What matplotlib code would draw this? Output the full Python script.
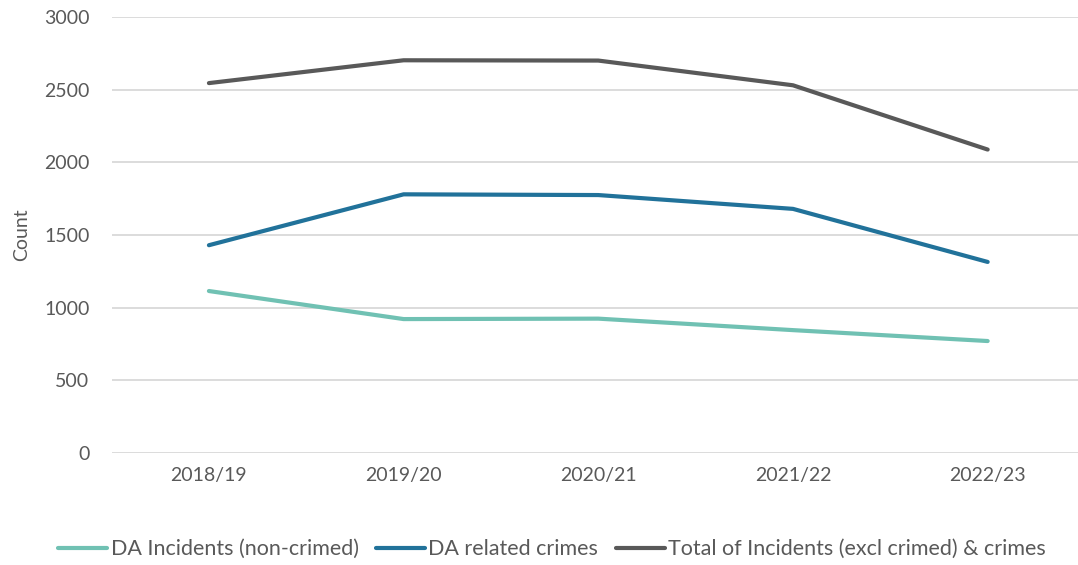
import matplotlib.pyplot as plt

years = ["2018/19", "2019/20", "2020/21", "2021/22", "2022/23"]
incidents = [1115, 922, 925, 846, 771]
crimes = [1430, 1780, 1775, 1680, 1315]
total = [2545, 2702, 2700, 2530, 2088]

plt.rcParams['font.family'] = ['Lato', 'DejaVu Sans']

fig = plt.figure(figsize=(10.78, 5.65), dpi=100)
ax = fig.add_axes([0.1035, 0.198, 0.903, 0.772])

x = list(range(len(years)))
ax.plot(x, incidents, color='#70C1B3', lw=3, solid_capstyle='round', label='DA Incidents (non-crimed)')
ax.plot(x, crimes, color='#21729A', lw=3, solid_capstyle='round', label='DA related crimes')
ax.plot(x, total, color='#595959', lw=3, solid_capstyle='round', label='Total of Incidents (excl crimed) & crimes')

ax.set_xlim(-0.5, len(years) - 0.5)
ax.set_ylim(0, 3000)
ax.set_yticks(range(0, 3001, 500))
ax.set_xticks(x)
ax.set_xticklabels(years)
ax.grid(axis='y', color='#D9D9D9', lw=1.3)
ax.set_axisbelow(True)
for s in ax.spines.values():
    s.set_visible(False)
ax.tick_params(length=0, labelsize=14, colors='#595959', pad=10)
ax.tick_params(axis='y', pad=16)
ax.set_ylabel('Count', fontsize=14, color='#595959', labelpad=10)

fig.legend(loc='center', bbox_to_anchor=(0.512, 0.028), ncol=3, frameon=False,
           fontsize=15.5, handlelength=2.3, handletextpad=0.15, columnspacing=0.8,
           labelcolor='#595959')

fig.savefig('out.png', dpi=100)
